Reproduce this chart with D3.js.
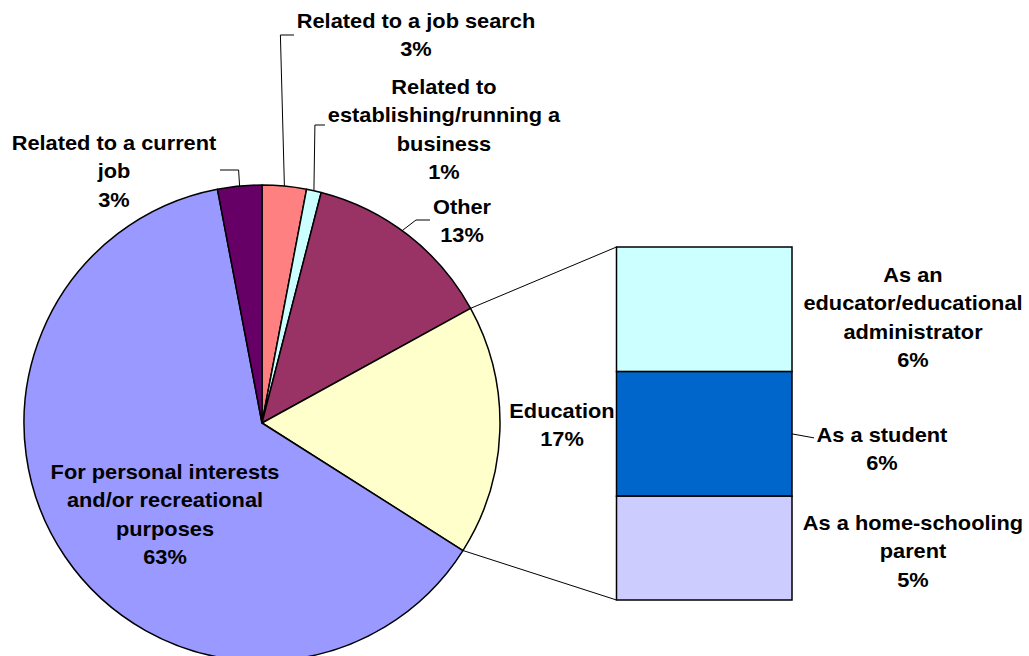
<!DOCTYPE html>
<html>
<head>
<meta charset="utf-8">
<script src="https://cdn.jsdelivr.net/npm/d3@7"></script>
<style>
  html, body { margin: 0; padding: 0; background: #fff; }
  svg { display: block; }
  text { font-family: "Liberation Sans", Arial, sans-serif; font-weight: bold; font-size: 20px; fill: #000; }
</style>
</head>
<body>
<svg id="chart" width="1029" height="656"></svg>
<script>
// Main pie: reasons for use, clockwise from 12 o'clock
const pieLabels = [
  ["Related to a job search"],
  ["Related to", "establishing/running a", "business"],
  ["Other"],
  ["Education"],
  ["For personal interests", "and/or recreational", "purposes"],
  ["Related to a current", "job"]
];
const pieValues = [3, 1, 13, 17, 63, 3];
const pieColors = ["#FF8080", "#CCFFFF", "#993366", "#FFFFCC", "#9999FF", "#660066"];

// Breakdown of the Education slice, top to bottom
const barLabels = [
  ["As an", "educator/educational", "administrator"],
  ["As a student"],
  ["As a home-schooling", "parent"]
];
const barValues = [6, 6, 5];
const barColors = ["#CCFFFF", "#0066CC", "#CCCCFF"];

const svg = d3.select("#chart");
const cx = 262, cy = 423, R = 238;
const lineH = 28.5;
const textStretch = 1.09;

const pie = d3.pie().sort(null).value(d => d)(pieValues);
const arc = d3.arc().innerRadius(0).outerRadius(R);

const g = svg.append("g").attr("transform", `translate(${cx},${cy})`);
g.selectAll("path.slice").data(pie).join("path")
  .attr("class", "slice")
  .attr("d", arc)
  .attr("fill", (d, i) => pieColors[i])
  .attr("stroke", "#000")
  .attr("stroke-width", 1.5)
  .attr("stroke-linejoin", "round");

const pt = (a, r) => [cx + r * Math.sin(a), cy - r * Math.cos(a)];

// Stacked bar for the Education slice
const barX0 = 616.5, barX1 = 792, barTop = 247, barBottom = 600;
const y = d3.scaleLinear().domain([0, d3.sum(barValues)]).range([barTop, barBottom]);
let acc = 0;
const stacks = barValues.map(v => { const s = { y0: acc, y1: acc + v }; acc += v; return s; });

// Connector lines from the Education slice to the bar
const edu = pie[3];
const pA = pt(edu.startAngle, R), pB = pt(edu.endAngle, R);
svg.append("line").attr("x1", pA[0]).attr("y1", pA[1]).attr("x2", barX0).attr("y2", y(0))
  .attr("stroke", "#000").attr("stroke-width", 1);
svg.append("line").attr("x1", pB[0]).attr("y1", pB[1]).attr("x2", barX0).attr("y2", y(d3.sum(barValues)))
  .attr("stroke", "#000").attr("stroke-width", 1);

svg.selectAll("rect.seg").data(stacks).join("rect")
  .attr("class", "seg")
  .attr("x", barX0)
  .attr("width", barX1 - barX0)
  .attr("y", d => y(d.y0))
  .attr("height", d => y(d.y1) - y(d.y0))
  .attr("fill", (d, i) => barColors[i])
  .attr("stroke", "#000")
  .attr("stroke-width", 1.5);

// Multi-line centred label: name lines followed by the percentage
function label(x, yFirst, lines, value) {
  const all = lines.concat([value + "%"]);
  const t = svg.append("text").attr("text-anchor", "middle")
    .attr("transform", `translate(${x},0) scale(${textStretch},1)`);
  all.forEach((s, i) => {
    t.append("tspan").attr("x", 0).attr("y", yFirst + i * lineH).attr("dy", "0.35em").text(s);
  });
}

function leader(points) {
  svg.append("path").attr("d", d3.line()(points))
    .attr("fill", "none").attr("stroke", "#000").attr("stroke-width", 1);
}

const mid = d => (d.startAngle + d.endAngle) / 2;

// job search
{ const p = pt(mid(pie[0]), R); leader([p, [p[0] - 4, 35], [294, 35]]); }
label(416, 21, pieLabels[0], pieValues[0]);
// business
{ const p = pt(mid(pie[1]), R); leader([p, [p[0] + 1, 125], [325, 125]]); }
label(444, 87, pieLabels[1], pieValues[1]);
// other
{ const p = pt(mid(pie[2]) - 0.03, R); leader([p, [416, 220], [430, 220]]); }
label(462, 207, pieLabels[2], pieValues[2]);
// education
label(562, 411, pieLabels[3], pieValues[3]);
// personal
label(165, 472, pieLabels[4], pieValues[4]);
// current job
{ const p = pt(mid(pie[5]), R); leader([p, [p[0] - 1, 170], [220, 170]]); }
label(114, 143, pieLabels[5], pieValues[5]);

// Bar labels
label(913, 275, barLabels[0], barValues[0]);
{ const ym = (y(stacks[1].y0) + y(stacks[1].y1)) / 2; leader([[barX1, ym], [814, ym + 4]]); }
label(882, 435, barLabels[1], barValues[1]);
label(913, 523, barLabels[2], barValues[2]);
</script>
</body>
</html>
